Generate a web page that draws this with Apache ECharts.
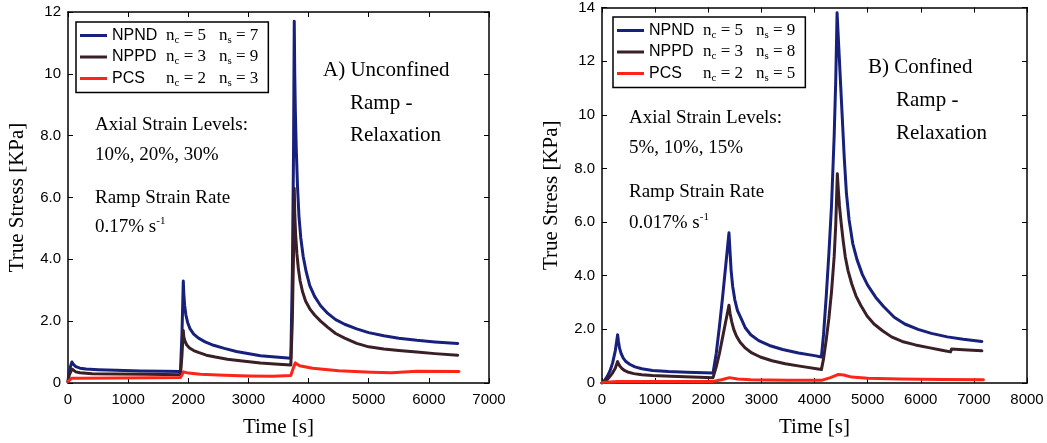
<!DOCTYPE html>
<html>
<head>
<meta charset="utf-8">
<script src="https://cdn.jsdelivr.net/npm/echarts@6/dist/echarts.min.js"></script>
<style>
html,body{margin:0;padding:0;background:#fff;}
#chart{width:1047px;height:443px;}
</style>
</head>
<body>
<div id="chart"></div>
<script>
// ---------- Panel A: Unconfined ramp-relaxation ----------
const A_tNPND = [0, 20, 65, 90, 130, 200, 300, 500, 800, 1200, 1600, 1870, 1895, 1917, 1925, 1940, 1960, 1990, 2030, 2090, 2170, 2280, 2420, 2600, 2800, 3200, 3500, 3705, 3730, 3750, 3762, 3770, 3780, 3795, 3815, 3840, 3870, 3910, 3960, 4020, 4100, 4200, 4320, 4450, 4600, 4800, 5000, 5250, 5500, 5800, 6100, 6480];
const A_NPND  = [0.05, 0.4, 0.68, 0.6, 0.53, 0.48, 0.45, 0.43, 0.41, 0.39, 0.38, 0.37, 1.6, 3.3, 2.9, 2.5, 2.2, 1.95, 1.75, 1.58, 1.45, 1.33, 1.22, 1.12, 1.02, 0.88, 0.83, 0.8, 3.5, 7.5, 11.7, 10.0, 8.8, 7.6, 6.4, 5.4, 4.7, 4.1, 3.6, 3.15, 2.8, 2.5, 2.25, 2.05, 1.9, 1.75, 1.63, 1.53, 1.45, 1.38, 1.33, 1.28];
const A_tNPPD = [0, 20, 65, 90, 130, 200, 400, 800, 1300, 1870, 1895, 1917, 1925, 1945, 1975, 2020, 2090, 2180, 2300, 2450, 2650, 2900, 3200, 3500, 3705, 3730, 3750, 3762, 3770, 3785, 3805, 3830, 3860, 3900, 3950, 4020, 4100, 4200, 4320, 4450, 4600, 4800, 5000, 5250, 5500, 5800, 6100, 6480];
const A_NPPD  = [0.03, 0.25, 0.45, 0.4, 0.36, 0.33, 0.3, 0.29, 0.28, 0.27, 0.9, 1.7, 1.5, 1.35, 1.23, 1.13, 1.05, 0.98, 0.9, 0.84, 0.77, 0.71, 0.65, 0.61, 0.58, 2.0, 4.2, 6.3, 5.5, 4.8, 4.2, 3.7, 3.3, 2.95, 2.65, 2.4, 2.2, 2.0, 1.8, 1.6, 1.45, 1.28, 1.17, 1.1, 1.05, 1.0, 0.95, 0.9];
const A_tPCS  = [0, 60, 200, 800, 1400, 1870, 1895, 1920, 2000, 2200, 2600, 3000, 3400, 3705, 3740, 3780, 3850, 4067, 4500, 5050, 5380, 5400, 5800, 6500];
const A_PCS   = [0.05, 0.15, 0.15, 0.16, 0.17, 0.18, 0.26, 0.36, 0.32, 0.28, 0.25, 0.23, 0.22, 0.24, 0.45, 0.65, 0.56, 0.48, 0.4, 0.35, 0.33, 0.38, 0.38, 0.37];

// ---------- Panel B: Confined ramp-relaxation ----------
const B_tNPND = [0, 50, 100, 150, 200, 250, 294, 310, 330, 360, 400, 450, 520, 620, 750, 950, 1250, 1600, 2090, 2150, 2210, 2270, 2330, 2390, 2410, 2430, 2460, 2500, 2550, 2620, 2700, 2800, 2950, 3150, 3400, 3700, 4000, 4130, 4170, 4220, 4270, 4320, 4370, 4400, 4425, 4440, 4470, 4500, 4530, 4560, 4600, 4650, 4720, 4800, 4900, 5000, 5150, 5300, 5500, 5700, 5950, 6200, 6500, 6800, 7150];
const B_NPND  = [0, 0.1, 0.25, 0.45, 0.75, 1.2, 1.8, 1.55, 1.3, 1.1, 0.93, 0.8, 0.7, 0.6, 0.53, 0.47, 0.43, 0.4, 0.37, 1.1, 2.1, 3.2, 4.4, 5.6, 4.9, 4.2, 3.6, 3.1, 2.7, 2.4, 2.05, 1.8, 1.58, 1.4, 1.25, 1.12, 1.02, 0.97, 1.8, 3.2, 4.8, 6.6, 9.2, 11.3, 13.8, 13.2, 12.0, 10.8, 9.6, 8.4, 7.1, 6.1, 5.2, 4.6, 4.05, 3.65, 3.2, 2.85, 2.45, 2.2, 2.0, 1.85, 1.72, 1.63, 1.55];
const B_tNPPD = [0, 50, 100, 150, 200, 250, 294, 310, 340, 380, 430, 500, 600, 750, 950, 1300, 1700, 2090, 2150, 2210, 2270, 2330, 2390, 2410, 2440, 2480, 2530, 2600, 2700, 2820, 2980, 3200, 3450, 3750, 4130, 4170, 4220, 4270, 4320, 4370, 4400, 4430, 4445, 4470, 4500, 4540, 4580, 4630, 4700, 4780, 4870, 4990, 5120, 5280, 5450, 5650, 5900, 6150, 6400, 6560, 6580, 6800, 7150];
const B_NPPD  = [0, 0.05, 0.13, 0.25, 0.38, 0.55, 0.8, 0.72, 0.62, 0.53, 0.46, 0.4, 0.35, 0.31, 0.28, 0.25, 0.22, 0.2, 0.6, 1.1, 1.7, 2.3, 2.9, 2.6, 2.3, 2.0, 1.75, 1.52, 1.3, 1.12, 0.97, 0.83, 0.72, 0.62, 0.5, 0.9, 1.6, 2.4, 3.4, 4.7, 5.9, 7.8, 7.3, 6.6, 6.0, 5.3, 4.7, 4.2, 3.7, 3.25, 2.9, 2.5, 2.2, 1.95, 1.72, 1.55, 1.42, 1.32, 1.22, 1.16, 1.27, 1.24, 1.2];
const B_tPCS  = [0, 300, 1000, 2090, 2250, 2400, 2550, 2800, 3500, 4130, 4300, 4450, 4550, 4700, 5000, 5600, 6400, 7180];
const B_PCS   = [0.02, 0.06, 0.06, 0.06, 0.12, 0.2, 0.15, 0.12, 0.1, 0.1, 0.2, 0.32, 0.3, 0.22, 0.18, 0.15, 0.13, 0.12];

const seriesNames = ['NPND', 'NPPD', 'PCS'];
const legendA = { NPND: ['5', '7'], NPPD: ['3', '9'], PCS: ['2', '3'] };
const legendB = { NPND: ['5', '9'], NPPD: ['3', '8'], PCS: ['2', '5'] };
const colors = { NPND: '#17207a', NPPD: '#3a1f26', PCS: '#ff2418' };

const SERIF = "'Liberation Serif', 'DejaVu Serif', serif";
const SANS = "'Liberation Sans', Arial, sans-serif";

function zip(t, v) { return t.map((x, i) => [x, v[i]]); }
function yFmt(v) { return v === 0 ? '0' : (v >= 10 ? String(v) : v.toFixed(1)); }
function xFmt(v) { return String(v); }

const chart = echarts.init(document.getElementById('chart'), null, { renderer: 'canvas' });

function mainX(gi, max) {
  return {
    type: 'value', gridIndex: gi, min: 0, max: max, interval: 1000, position: 'bottom',
    name: 'Time [s]', nameLocation: 'middle', nameGap: 34,
    nameTextStyle: { fontFamily: SERIF, fontSize: 21, color: '#000' },
    axisLine: { show: true, onZero: false, lineStyle: { color: '#000', width: 1.5 } },
    axisTick: { show: true, inside: true, length: 5, lineStyle: { color: '#000' } },
    axisLabel: { fontFamily: SANS, fontSize: 15, color: '#000', margin: 9, formatter: xFmt },
    splitLine: { show: false }
  };
}
function mirrorX(gi, max) {
  return {
    type: 'value', gridIndex: gi, min: 0, max: max, interval: 1000, position: 'top',
    axisLine: { show: true, onZero: false, lineStyle: { color: '#000', width: 1.5 } },
    axisTick: { show: true, inside: true, length: 5, lineStyle: { color: '#000' } },
    axisLabel: { show: false }, splitLine: { show: false }
  };
}
function mainY(gi, max) {
  return {
    type: 'value', gridIndex: gi, min: 0, max: max, interval: 2, position: 'left',
    name: 'True Stress [KPa]', nameLocation: 'middle', nameGap: 40,
    nameTextStyle: { fontFamily: SERIF, fontSize: 21, color: '#000' },
    axisLine: { show: true, onZero: false, lineStyle: { color: '#000', width: 1.5 } },
    axisTick: { show: true, inside: true, length: 5, lineStyle: { color: '#000' } },
    axisLabel: { fontFamily: SANS, fontSize: 15, color: '#000', margin: 7, formatter: yFmt },
    splitLine: { show: false }
  };
}
function mirrorY(gi, max) {
  return {
    type: 'value', gridIndex: gi, min: 0, max: max, interval: 2, position: 'right',
    axisLine: { show: true, onZero: false, lineStyle: { color: '#000', width: 1.5 } },
    axisTick: { show: true, inside: true, length: 5, lineStyle: { color: '#000' } },
    axisLabel: { show: false }, splitLine: { show: false }
  };
}

function line(name, gi, t, v) {
  return {
    type: 'line', name: name, xAxisIndex: gi, yAxisIndex: gi,
    data: zip(t, v), showSymbol: false, symbol: 'none',
    lineStyle: { color: colors[name], width: 3, join: 'round', cap: 'round' },
    itemStyle: { color: colors[name] },
    animation: false
  };
}

const legendRich = {
  a: { fontFamily: SANS, fontSize: 16, width: 54, lineHeight: 20, color: '#000' },
  n: { fontFamily: SERIF, fontSize: 17, lineHeight: 20, color: '#000' },
  s: { fontFamily: SERIF, fontSize: 11, lineHeight: 11, verticalAlign: 'bottom', color: '#000' },
  g: { fontFamily: SERIF, fontSize: 17, width: 13, lineHeight: 20 }
};
function legend(left, top, info) {
  return {
    orient: 'vertical', left: left, top: top,
    data: seriesNames, icon: 'rect', itemWidth: 27, itemHeight: 3, itemGap: 3,
    padding: [5, 10, 4, 4], borderColor: '#000', borderWidth: 1.5,
    selectedMode: false,
    textStyle: { rich: legendRich },
    formatter: function (name) {
      const p = info[name];
      return '{a|' + name + '}{n|n}{s|c}{n| = ' + p[0] + '}{g| }{n|n}{s|s}{n| = ' + p[1] + '}';
    }
  };
}

function txt(x, y, text, size) {
  return {
    type: 'text', x: x, y: y, silent: true,
    style: {
      text: text, fill: '#000', font: size + 'px ' + SERIF,
      verticalAlign: 'middle', align: 'left', lineHeight: 22,
      rich: { sup: { fontFamily: SERIF, fontSize: 11, lineHeight: 11, verticalAlign: 'top', fill: '#000' } }
    }
  };
}

const option = {
  backgroundColor: '#fff',
  animation: false,
  grid: [
    { left: 68, right: 558, top: 12, bottom: 55 },
    { left: 602, right: 20, top: 7, bottom: 60 }
  ],
  xAxis: [mainX(0, 7000), mainX(1, 8000), mirrorX(0, 7000), mirrorX(1, 8000)],
  yAxis: [mainY(0, 12), mainY(1, 14), mirrorY(0, 12), mirrorY(1, 14)],
  legend: [legend(76, 22, legendA), legend(613, 17, legendB)],
  series: [
    line('NPND', 0, A_tNPND, A_NPND),
    line('NPPD', 0, A_tNPPD, A_NPPD),
    line('PCS', 0, A_tPCS, A_PCS),
    line('NPND', 1, B_tNPND, B_NPND),
    line('NPPD', 1, B_tNPPD, B_NPPD),
    line('PCS', 1, B_tPCS, B_PCS)
  ],
  graphic: [
    txt(95, 125, 'Axial Strain Levels:', 19),
    txt(95, 155, '10%, 20%, 30%', 19),
    txt(95, 198, 'Ramp Strain Rate', 19),
    txt(95, 227, '0.17% s{sup|-1}', 19),
    txt(323, 70, 'A) Unconfined', 21),
    txt(350, 103, 'Ramp -', 21),
    txt(350, 135, 'Relaxation', 21),
    txt(629, 118, 'Axial Strain Levels:', 19),
    txt(629, 148, '5%, 10%, 15%', 19),
    txt(629, 192, 'Ramp Strain Rate', 19),
    txt(629, 223, '0.017% s{sup|-1}', 19),
    txt(868, 67, 'B) Confined', 21),
    txt(896, 100, 'Ramp -', 21),
    txt(896, 133, 'Relaxation', 21)
  ]
};
chart.setOption(option);
</script>
</body>
</html>
